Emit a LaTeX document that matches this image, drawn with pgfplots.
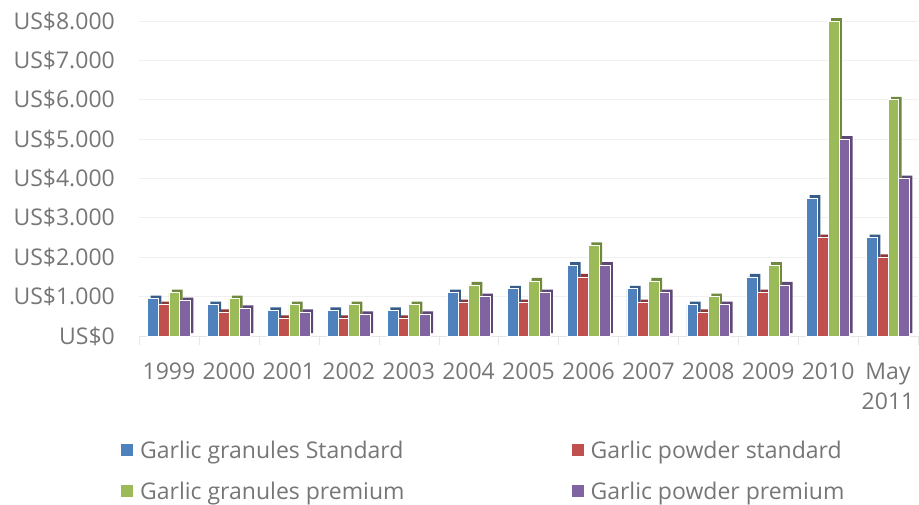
\documentclass[border=0pt]{standalone}
\usepackage{fontspec}
\setmainfont{Open Sans}
\usepackage{pgfplots}
\usepackage{pgfplotstable}
\pgfplotsset{compat=1.18}
\definecolor{txt}{RGB}{118,118,118}
\definecolor{cblue}{RGB}{79,129,189}
\definecolor{cred}{RGB}{192,80,77}
\definecolor{cgreen}{RGB}{155,187,89}
\definecolor{cpurple}{RGB}{128,100,162}
\definecolor{dblue}{RGB}{56,93,138}
\definecolor{dred}{RGB}{140,56,54}
\definecolor{dgreen}{RGB}{113,137,63}
\definecolor{dpurple}{RGB}{93,72,119}
\pgfplotstableread{
x blue red green purple
0 950 800 1100 900
1 800 600 950 700
2 650 450 800 600
3 650 450 800 550
4 650 450 800 550
5 1100 850 1300 1000
6 1200 850 1400 1100
7 1800 1500 2300 1800
8 1200 850 1400 1100
9 800 600 1000 800
10 1500 1100 1800 1300
11 3500 2500 8000 5000
12 2500 2000 6000 4000
}\data
\newcommand{\lbl}{\fontsize{23}{30}\selectfont}
\begin{document}
\begin{tikzpicture}[x=1pt,y=1pt]
\path[use as bounding box] (0,0) rectangle (919,504);
\begin{axis}[
  at={(139pt,168pt)}, anchor=south west,
  scale only axis, width=779pt, height=315pt,
  ybar, bar width=10.7pt, clip=false,
  ymin=0, ymax=8000, xmin=-0.5, xmax=12.5,
  xtick={0,...,12},
  xticklabels={1999,2000,2001,2002,2003,2004,2005,2006,2007,2008,2009,2010,{May\\2011}},
  xticklabel style={align=center, font=\lbl, text=txt, inner sep=0pt, yshift=-27pt},
  ytick={0,1000,...,8000},
  yticklabels={US\$0,US\$1.000,US\$2.000,US\$3.000,US\$4.000,US\$5.000,US\$6.000,US\$7.000,US\$8.000},
  yticklabel style={font=\lbl, text=txt, inner sep=0pt, xshift=-24pt},
  minor xtick={-0.5,0.5,...,12.5},
  major tick length=0pt, minor tick length=9pt, tick align=outside,
  minor x tick style={draw=gray!18},
  ymajorgrids, grid style={draw=gray!12, line width=0.8pt},
  axis x line*=bottom, axis y line*=left,
  x axis line style={draw=gray!20, line width=0.8pt, -},
  y axis line style={draw=none},
  legend columns=2,
  legend cell align=left,
  legend image code/.code={\fill[#1, draw=none] (0pt,-6pt) rectangle (12pt,6pt);},
  legend style={draw=none, fill=none, font=\lbl, text=txt,
    at={(-0.027,-0.322)}, anchor=north west,
    row sep=20pt,
    nodes={inner sep=1pt},
    /tikz/every odd column/.append style={column sep=6pt},
    /tikz/every even column/.append style={column sep=166pt}},
]
\addplot[fill=dblue, draw=none, bar shift=-16.05pt, xshift=3pt, yshift=3pt, forget plot] table[x=x,y=blue] {\data};
\addplot[fill=dred, draw=none, bar shift=-5.35pt, xshift=3pt, yshift=3pt, forget plot] table[x=x,y=red] {\data};
\addplot[fill=dgreen, draw=none, bar shift=5.35pt, xshift=3pt, yshift=3pt, forget plot] table[x=x,y=green] {\data};
\addplot[fill=dpurple, draw=none, bar shift=16.05pt, xshift=3pt, yshift=3pt, forget plot] table[x=x,y=purple] {\data};
\addplot[fill=cblue, draw=white, line width=0.6pt, bar shift=-16.05pt] table[x=x,y=blue] {\data};
\addplot[fill=cred, draw=white, line width=0.6pt, bar shift=-5.35pt] table[x=x,y=red] {\data};
\addplot[fill=cgreen, draw=white, line width=0.6pt, bar shift=5.35pt] table[x=x,y=green] {\data};
\addplot[fill=cpurple, draw=white, line width=0.6pt, bar shift=16.05pt] table[x=x,y=purple] {\data};
\legend{Garlic granules Standard, Garlic powder standard, Garlic granules premium, Garlic powder premium}
\end{axis}
\end{tikzpicture}
\end{document}
